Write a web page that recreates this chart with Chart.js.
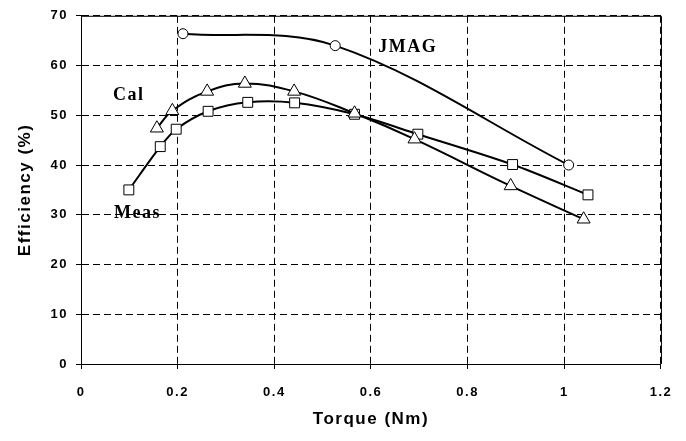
<!DOCTYPE html>
<html>
<head>
<meta charset="utf-8">
<script src="https://cdn.jsdelivr.net/npm/chart.js@4/dist/chart.umd.min.js"></script>
<style>
  html, body { margin: 0; padding: 0; background: #fff; }
  #wrap { width: 686px; height: 441px; }
</style>
</head>
<body>
<div id="wrap"><canvas id="effChart" width="686" height="441"></canvas></div>
<script>
// values
const xTickLabels = ['0', '0.2', '0.4', '0.6', '0.8', '1', '1.2'];
const yTickLabels = ['0', '10', '20', '30', '40', '50', '60', '70'];

const jmagX = [0.211, 0.526, 1.009];
const jmagY = [66.4, 64.0, 40.0];

const calX = [0.157, 0.189, 0.261, 0.339, 0.441, 0.566, 0.690, 0.889, 1.040];
const calY = [47.4, 50.9, 54.8, 56.4, 54.8, 50.4, 45.2, 35.8, 29.1];

const measX = [0.099, 0.164, 0.197, 0.263, 0.345, 0.442, 0.566, 0.697, 0.893, 1.049];
const measY = [35.0, 43.7, 47.2, 50.8, 52.6, 52.5, 50.2, 46.2, 40.1, 34.0];

// curve labels, placed in data units
const labelText = ['JMAG', 'Cal', 'Meas'];
const labelX = [0.676, 0.099, 0.117];
const labelY = [63.7, 54.1, 30.2];

function toPoints(xs, ys) {
    return xs.map((x, i) => ({ x: x, y: ys[i] }));
}

// spaced-out text like the original, plus the closed frame and curve labels
const framePlugin = {
    id: 'frame',
    beforeDraw(chart) {
        chart.ctx.letterSpacing = '1.5px';
    },
    beforeDatasetsDraw(chart) {
        const ctx = chart.ctx;
        const { x, y } = chart.scales;
        ctx.save();
        ctx.letterSpacing = '1.5px';
        ctx.font = 'bold 18px "Liberation Serif", "Times New Roman", serif';
        ctx.fillStyle = '#000';
        ctx.textAlign = 'center';
        ctx.textBaseline = 'middle';
        labelText.forEach((t, i) => {
            ctx.fillText(t, x.getPixelForValue(labelX[i]), y.getPixelForValue(labelY[i]));
        });
        ctx.restore();
    },
    afterDraw(chart) {
        const ctx = chart.ctx;
        const a = chart.chartArea;
        ctx.save();
        ctx.strokeStyle = '#000';
        ctx.lineWidth = 1;
        ctx.setLineDash([]);
        ctx.beginPath();
        ctx.moveTo(a.left, a.top + 0.5);
        ctx.lineTo(a.right + 0.5, a.top + 0.5);
        ctx.lineTo(a.right + 0.5, a.bottom);
        ctx.stroke();
        ctx.restore();
    }
};

const seriesStyle = {
    borderColor: '#000',
    borderWidth: 2,
    pointBackgroundColor: '#fff',
    pointBorderColor: '#000',
    pointBorderWidth: 1,
    fill: false
};

const gridStyle = {
    display: true,
    drawOnChartArea: true,
    color: '#000',
    lineWidth: 1,
    tickLength: 5,
    tickBorderDash: [],
    tickColor: '#000'
};
const borderStyle = { display: true, color: '#000', width: 1, dash: [7, 4] };
const tickFont = { family: '"Liberation Sans", Arial, sans-serif', size: 13, weight: 'bold' };
const titleFont = { family: '"Liberation Sans", Arial, sans-serif', size: 17, weight: 'bold' };

new Chart(document.getElementById('effChart'), {
    type: 'scatter',
    data: {
        datasets: [
            Object.assign({ label: 'JMAG', data: toPoints(jmagX, jmagY), showLine: true, tension: 0.35,
                pointStyle: 'circle', pointRadius: 5 }, seriesStyle),
            Object.assign({ label: 'Cal', data: toPoints(calX, calY), showLine: true, tension: 0.4,
                pointStyle: 'triangle', pointRadius: 7.5 }, seriesStyle),
            Object.assign({ label: 'Meas', data: toPoints(measX, measY), showLine: true, tension: 0.3,
                pointStyle: 'rect', pointRadius: 7 }, seriesStyle)
        ]
    },
    options: {
        responsive: false,
        animation: false,
        layout: { padding: { top: 13, right: 25, left: 0, bottom: 0 } },
        plugins: {
            legend: { display: false },
            tooltip: { enabled: false }
        },
        scales: {
            x: {
                type: 'linear',
                min: 0,
                max: 1.2,
                afterFit(scale) { scale.height = 77; },
                afterBuildTicks(scale) {
                    scale.ticks = xTickLabels.map(v => ({ value: parseFloat(v) }));
                },
                ticks: {
                    callback: (v, i) => xTickLabels[i],
                    color: '#000',
                    padding: 16,
                    font: tickFont
                },
                grid: gridStyle,
                border: borderStyle,
                title: {
                    display: true,
                    text: 'Torque (Nm)',
                    color: '#000',
                    padding: { top: 0, bottom: 11 },
                    font: titleFont
                }
            },
            y: {
                type: 'linear',
                min: 0,
                max: 70,
                afterFit(scale) { scale.width = 81; },
                afterBuildTicks(scale) {
                    scale.ticks = yTickLabels.map(v => ({ value: parseFloat(v) }));
                },
                ticks: {
                    callback: (v, i) => yTickLabels[i],
                    color: '#000',
                    padding: 8,
                    font: tickFont
                },
                grid: gridStyle,
                border: borderStyle,
                title: {
                    display: true,
                    text: 'Efficiency (%)',
                    color: '#000',
                    padding: { top: 15, bottom: 0 },
                    font: titleFont
                }
            }
        }
    },
    plugins: [framePlugin]
});
</script>
</body>
</html>
